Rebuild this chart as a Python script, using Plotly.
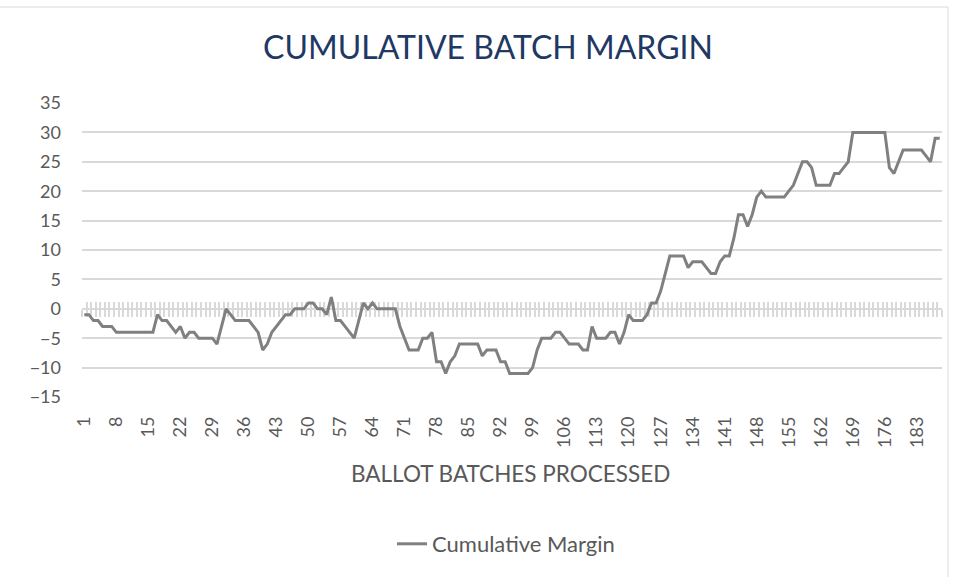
import plotly.graph_objects as go

# ---- data ----
batches = list(range(1, 189))
cumulative_margin = [
    -1, -1, -2, -2, -3, -3, -3, -4, -4, -4,
    -4, -4, -4, -4, -4, -4, -1, -2, -2, -3,
    -4, -3, -5, -4, -4, -5, -5, -5, -5, -6,
    -3, 0, -1, -2, -2, -2, -2, -3, -4, -7,
    -6, -4, -3, -2, -1, -1, 0, 0, 0, 1,
    1, 0, 0, -1, 2, -2, -2, -3, -4, -5,
    -2, 1, 0, 1, 0, 0, 0, 0, 0, -3,
    -5, -7, -7, -7, -5, -5, -4, -9, -9, -11,
    -9, -8, -6, -6, -6, -6, -6, -8, -7, -7,
    -7, -9, -9, -11, -11, -11, -11, -11, -10, -7,
    -5, -5, -5, -4, -4, -5, -6, -6, -6, -7,
    -7, -3, -5, -5, -5, -4, -4, -6, -4, -1,
    -2, -2, -2, -1, 1, 1, 3, 6, 9, 9,
    9, 9, 7, 8, 8, 8, 7, 6, 6, 8,
    9, 9, 12, 16, 16, 14, 16, 19, 20, 19,
    19, 19, 19, 19, 20, 21, 23, 25, 25, 24,
    21, 21, 21, 21, 23, 23, 24, 25, 30, 30,
    30, 30, 30, 30, 30, 30, 24, 23, 25, 27,
    27, 27, 27, 27, 26, 25, 29, 29,
]
x_tick_values = [1, 8, 15, 22, 29, 36, 43, 50, 57, 64, 71, 78, 85, 92, 99, 106,
                 113, 120, 127, 134, 141, 148, 155, 162, 169, 176, 183]
x_tick_labels = [str(v) for v in x_tick_values]
y_tick_values = [35, 30, 25, 20, 15, 10, 5, 0, -5, -10, -15]

title_text = "CUMULATIVE BATCH MARGIN"
x_title_text = "BALLOT BATCHES PROCESSED"
series_name = "Cumulative Margin"

# ---- styling ----
FONT = "Lato"
GRAY_TXT = "#595959"
GRID = "#d9d9d9"
LINE = "#808080"

W, H = 960, 577
ML, MR, MT, MB = 82, 18, 103, 180
PW, PH = W - ML - MR, H - MT - MB
y_range = [-15, 35]
x_range = [0.5, len(batches) + 0.5]
zero_pos = (0 - y_range[0]) / (y_range[1] - y_range[0])

fig = go.Figure()

# helper traces so the overlaid category-tick axes are drawn
for ax in ("x2", "x3"):
    fig.add_trace(go.Scatter(
        x=batches, y=cumulative_margin, xaxis=ax, yaxis="y",
        mode="markers", marker=dict(opacity=0, size=1),
        hoverinfo="skip", showlegend=False,
    ))

fig.add_trace(go.Scatter(
    x=batches, y=cumulative_margin, name=series_name,
    mode="lines", line=dict(color=LINE, width=3),
))

axis_common = dict(range=x_range, showgrid=False, zeroline=False)

fig.update_layout(
    width=W, height=H,
    margin=dict(l=ML, r=MR, t=MT, b=MB, autoexpand=False),
    paper_bgcolor="white", plot_bgcolor="white",
    font=dict(family=FONT, color=GRAY_TXT),
    title=dict(text=title_text, x=488 / W, xref="container", xanchor="center",
               y=1 - 48 / H, yref="container", yanchor="middle",
               font=dict(family=FONT, size=32, color="#1F3864")),
    xaxis=dict(**axis_common, tickmode="array", tickvals=x_tick_values,
               ticktext=x_tick_labels, tickangle=-90, ticks="",
               ticklabelstandoff=15, showline=False,
               tickfont=dict(size=18, color=GRAY_TXT)),
    xaxis2=dict(**axis_common, overlaying="x", anchor="free", position=zero_pos,
                side="bottom", tickmode="linear", tick0=0.5, dtick=1,
                ticks="outside", ticklen=7, tickwidth=1.5, tickcolor=GRID,
                showticklabels=False, showline=True, linecolor=GRID, linewidth=1.5,
                layer="below traces"),
    xaxis3=dict(**axis_common, overlaying="x", anchor="free", position=zero_pos,
                side="bottom", tickmode="linear", tick0=0.5, dtick=1,
                ticks="inside", ticklen=7, tickwidth=1.5, tickcolor=GRID,
                showticklabels=False, showline=False,
                layer="below traces"),
    yaxis=dict(range=y_range, tickmode="array", tickvals=y_tick_values,
               showgrid=True, gridcolor=GRID, gridwidth=1.5, zeroline=False,
               ticks="", ticklabelstandoff=20, showline=False,
               tickfont=dict(size=18, color=GRAY_TXT)),
    legend=dict(orientation="h", xref="container", yref="container",
                x=392 / W, y=1 - 544 / H, xanchor="left", yanchor="middle",
                font=dict(size=22, color=GRAY_TXT), bgcolor="rgba(0,0,0,0)"),
    showlegend=True,
    annotations=[dict(text=x_title_text, xref="paper", yref="paper",
                      x=(510 - ML) / PW, y=(H - MB - 473) / PH,
                      xanchor="center", yanchor="middle", showarrow=False,
                      font=dict(family=FONT, size=22.5, color=GRAY_TXT))],
    shapes=[dict(type="rect", xref="paper", yref="paper",
                 x0=(-10 - ML) / PW, x1=(948 - ML) / PW,
                 y0=(H - MB - 600) / PH, y1=(H - MB - 7) / PH,
                 line=dict(color=GRID, width=1), fillcolor="rgba(0,0,0,0)",
                 layer="below")],
)

fig.write_html("out.html",
               config={"displayModeBar": False},
               post_script="document.body.style.margin='0';document.body.style.overflow='hidden';")
